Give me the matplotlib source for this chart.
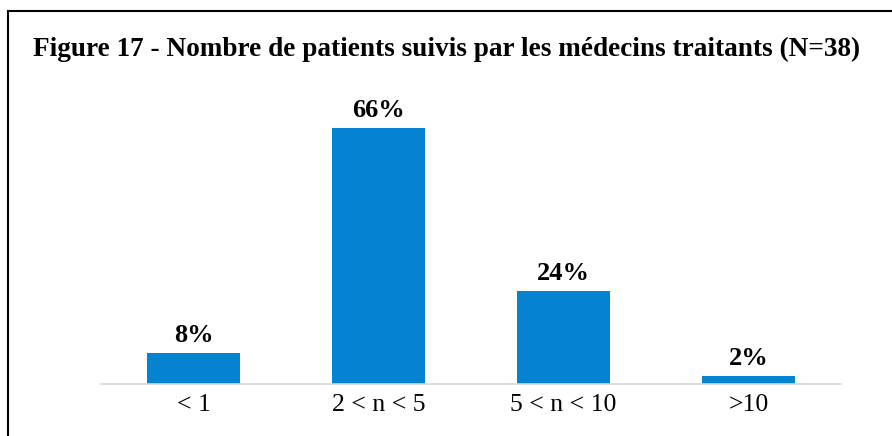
import matplotlib.pyplot as plt
from matplotlib.patches import Rectangle

plt.rcParams['font.family'] = ['Liberation Serif', 'DejaVu Serif']

categories = ['< 1', '2 < n < 5', '5 < n < 10', '>10']
pourcentages = [8, 66, 24, 2]
titre = 'Figure 17 - Nombre de patients suivis par les médecins traitants (N=38)'

W, H = 892, 436
fig = plt.figure(figsize=(W / 100, H / 100), dpi=100)

# cadre noir (gauche + haut visibles)
fig.patches.append(Rectangle((8 / W, -0.05), 1.1, (H - 11) / H + 0.05,
                             transform=fig.transFigure, fill=False,
                             edgecolor='black', linewidth=1.5, clip_on=False))

ax = fig.add_axes([101 / W, (H - 384) / H, 740 / W, 284 / H])
x = list(range(len(categories)))
bars = ax.bar(x, pourcentages, width=0.5, color='#0582D0')
ax.set_xlim(-0.5, len(categories) - 0.5)
ax.set_ylim(0, 284 / 3.88)

for b, v in zip(bars, pourcentages):
    ax.text(b.get_x() + b.get_width() / 2, v + 1.5, '{}%'.format(v),
            ha='center', va='bottom', fontsize=19, fontweight='bold')

ax.set_xticks(x)
ax.set_xticklabels(categories, fontsize=18.5)
ax.tick_params(axis='x', length=0, pad=7)
ax.set_yticks([])
for s in ['top', 'right', 'left']:
    ax.spines[s].set_visible(False)
ax.spines['bottom'].set_color('#D9D9D9')
ax.spines['bottom'].set_linewidth(1.2)

fig.text(447 / W, (H - 49) / H, titre, ha='center', va='center',
         fontsize=19.6, fontweight='bold')

fig.savefig('out.png', dpi=100)
